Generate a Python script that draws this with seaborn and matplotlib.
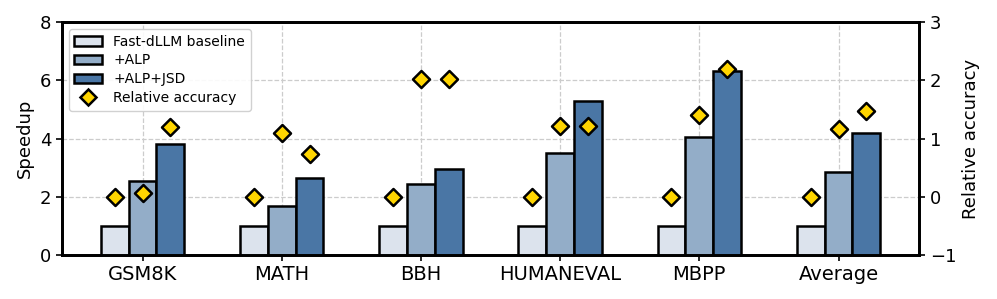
import matplotlib
matplotlib.use("Agg")
import matplotlib.pyplot as plt
import seaborn as sns
import pandas as pd
import numpy as np
from matplotlib.lines import Line2D

sns.set_style("white")
plt.rcParams['font.family'] = ['DejaVu Sans']
plt.rcParams['text.color'] = 'black'
plt.rcParams['axes.labelcolor'] = 'black'
plt.rcParams['xtick.color'] = 'black'
plt.rcParams['ytick.color'] = 'black'
plt.rcParams['axes.edgecolor'] = 'black'

categories = ["GSM8K", "MATH", "BBH", "HUMANEVAL", "MBPP", "Average"]
series_names = ["Fast-dLLM baseline", "+ALP", "+ALP+JSD"]
speedup_baseline = [1.0, 1.0, 1.0, 1.0, 1.0, 1.0]
speedup_alp = [2.55, 1.70, 2.45, 3.51, 4.06, 2.85]
speedup_alp_jsd = [3.82, 2.63, 2.96, 5.28, 6.32, 4.19]
relacc_baseline = [0.0, 0.0, 0.0, 0.0, 0.0, 0.0]
relacc_alp = [0.07, 1.10, 2.03, 1.21, 1.40, 1.16]
relacc_alp_jsd = [1.20, 0.73, 2.03, 1.21, 2.20, 1.48]

colors = ["#dce3ed", "#93adc8", "#4a76a5"]

df = pd.DataFrame({
    "category": categories * 3,
    "series": sum([[s] * len(categories) for s in series_names], []),
    "speedup": speedup_baseline + speedup_alp + speedup_alp_jsd,
})

fig = plt.figure(figsize=(9.97, 2.99), dpi=100)
ax = fig.add_axes([0.062, 0.147, 0.860, 0.779])

sns.barplot(data=df, x="category", y="speedup", hue="series", hue_order=series_names,
            order=categories, palette=colors, width=0.6, edgecolor="black",
            linewidth=1.8, saturation=1, ax=ax, legend=False, zorder=3)

ax.set_ylim(0, 8)
ax.set_yticks([0, 2, 4, 6, 8])
ax.set_xlim(-0.58, 5.58)
ax.set_xlabel("")
ax.set_ylabel("Speedup", fontsize=13)
ax.tick_params(axis="x", labelsize=14, length=4, width=1.2, bottom=True)
ax.tick_params(axis="y", labelsize=13, length=4, width=1.2, left=True)
ax.grid(True, linestyle="--", color="#cccccc", linewidth=0.9, zorder=0)
ax.set_axisbelow(True)
for sp in ax.spines.values():
    sp.set_linewidth(2)

ax2 = ax.twinx()
ax2.set_ylim(-1, 3)
ax2.set_yticks([-1, 0, 1, 2, 3])
ax2.set_ylabel("Relative accuracy", fontsize=13)
ax2.tick_params(axis="y", labelsize=13, length=4, width=1.2, right=True)
for sp in ax2.spines.values():
    sp.set_linewidth(2)

x = np.arange(len(categories))
offsets = [-0.2, 0.0, 0.2]
for off, vals in zip(offsets, [relacc_baseline, relacc_alp, relacc_alp_jsd]):
    sns.scatterplot(x=x + off, y=vals, marker="D", s=75, color="#FFD500",
                    edgecolor="black", linewidth=1.8, ax=ax2, zorder=5, legend=False)
ax2.set_xlim(-0.58, 5.58)

handles = [plt.Rectangle((0, 0), 1, 1, facecolor=c, edgecolor="black", linewidth=1.8) for c in colors]
handles.append(Line2D([], [], marker="D", linestyle="none", markersize=8,
                      markerfacecolor="#FFD500", markeredgecolor="black", markeredgewidth=1.8))
ax2.legend(handles, series_names + ["Relative accuracy"], loc="upper left", fontsize=10,
           framealpha=0.9, borderpad=0.4, handlelength=2.0, labelspacing=0.35)

fig.savefig("out.png", dpi=100)
